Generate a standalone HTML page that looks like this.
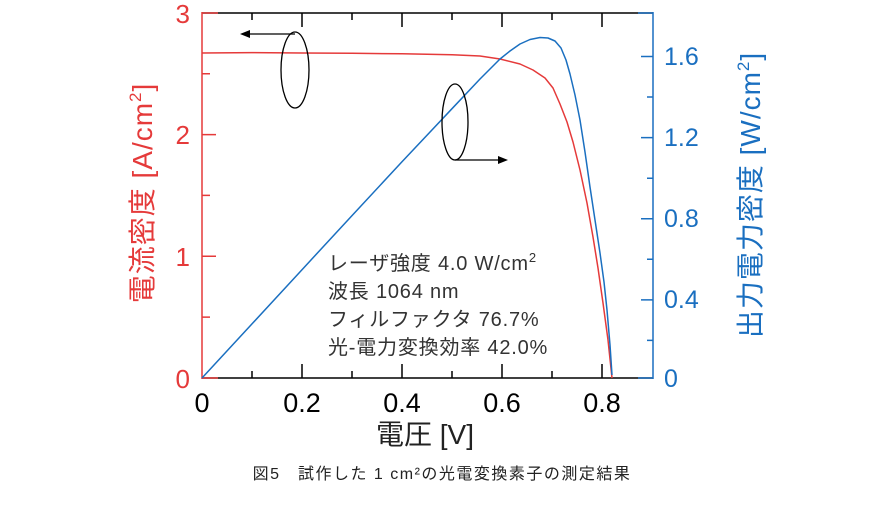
<!DOCTYPE html>
<html><head><meta charset="utf-8"><style>
body{margin:0;background:#fff;width:890px;height:500px;overflow:hidden}
svg text{font-family:"Liberation Sans","Noto Sans CJK JP",sans-serif}
</style></head><body>
<svg width="890" height="500" viewBox="0 0 890 500" xmlns="http://www.w3.org/2000/svg">
<line x1="202" y1="13" x2="653" y2="13" stroke="#000" stroke-width="1.5"/>
<line x1="202" y1="378" x2="653" y2="378" stroke="#000" stroke-width="1.5"/>
<line x1="202" y1="12" x2="202" y2="379" stroke="#e53a3a" stroke-width="1.5"/>
<line x1="202" y1="13" x2="218" y2="13" stroke="#e53a3a" stroke-width="1.5"/>
<line x1="202" y1="378" x2="218" y2="378" stroke="#e53a3a" stroke-width="1.5"/>
<line x1="653" y1="12" x2="653" y2="379" stroke="#1a6fc0" stroke-width="1.5"/>
<line x1="638" y1="13" x2="653" y2="13" stroke="#1a6fc0" stroke-width="1.5"/>
<line x1="638" y1="378" x2="653" y2="378" stroke="#1a6fc0" stroke-width="1.5"/>
<g stroke="#000" stroke-width="1.5">
<path d="M252 378v-7M302 378v-14M352 378v-7M402 378v-14M452 378v-7M502 378v-14M552 378v-7M602 378v-14"/>
<path d="M252 13v7M302 13v14M352 13v7M402 13v14M452 13v7M502 13v14M552 13v7M602 13v14"/>
</g>
<g stroke="#e53a3a" stroke-width="1.5">
<path d="M202 134.6h14M202 256.3h14M202 73.8h8M202 195.4h8M202 317.1h8"/>
</g>
<g stroke="#1a6fc0" stroke-width="1.5">
<path d="M653 56.5h-12M653 137.6h-12M653 218.7h-12M653 299.9h-12M653 97h-6M653 178.2h-6M653 259.3h-6M653 340.4h-6"/>
</g>
<g font-size="27" fill="#000" text-anchor="middle">
<text x="202" y="412">0</text><text x="302" y="412">0.2</text><text x="402" y="412">0.4</text><text x="502" y="412">0.6</text><text x="602" y="412">0.8</text>
</g>
<g font-size="26" fill="#e53a3a" text-anchor="end">
<text x="190" y="23">3</text><text x="190" y="144">2</text><text x="190" y="266">1</text><text x="190" y="388">0</text>
</g>
<g font-size="25" fill="#1a6fc0" text-anchor="start">
<text x="664" y="387">0</text><text x="664" y="308">0.4</text><text x="664" y="227">0.8</text><text x="664" y="146">1.2</text><text x="664" y="65">1.6</text>
</g>
<text x="425" y="444" font-size="28" text-anchor="middle" fill="#222">電圧 [V]</text>
<text transform="translate(152,193) rotate(-90)" font-size="28" text-anchor="middle" fill="#e53a3a" letter-spacing="1">電流密度 [A/cm<tspan font-size="17" dy="-11">2</tspan><tspan dy="11">]</tspan></text>
<text transform="translate(760,195) rotate(-90)" font-size="28" text-anchor="middle" fill="#1a6fc0" letter-spacing="1">出力電力密度 [W/cm<tspan font-size="17" dy="-11">2</tspan><tspan dy="11">]</tspan></text>
<polyline fill="none" stroke="#e53a3a" stroke-width="1.5" stroke-linejoin="round" points="202,53 252,52.6 302,53 352,53.3 402,53.8 452,54.8 480,56 500,59 520,64 533,70 545,78 553,88 560,104 567,122 573,142 580,170 587,203 593,237 598,268 603,303 608,340 612,378"/>
<polyline fill="none" stroke="#1a6fc0" stroke-width="1.5" stroke-linejoin="round" points="202,378 252,323.9 302,269.7 352,215.6 402,161.8 452,108.7 480,79 500,59 510,51 520,44 530,39.5 540,37.5 548,38 555,41 561,48 566,60 570,74 575,95 580,120 585,152 590,187 595,220 600,253 604,282 607,310 610,345 612,375"/>
<ellipse cx="295" cy="70" rx="14" ry="38" fill="none" stroke="#000" stroke-width="1.3"/>
<line x1="295" y1="34" x2="248" y2="34" stroke="#000" stroke-width="1.3"/>
<polygon points="240,34 250,30 250,38" fill="#000"/>
<ellipse cx="455" cy="122" rx="13" ry="38" fill="none" stroke="#000" stroke-width="1.3"/>
<line x1="455" y1="160" x2="500" y2="160" stroke="#000" stroke-width="1.3"/>
<polygon points="508,160 498,156 498,164" fill="#000"/>
<g font-size="20" fill="#333" letter-spacing="0.8">
<text x="328" y="270">レーザ強度 4.0 W/cm<tspan font-size="13" dy="-8">2</tspan></text>
<text x="328" y="298">波長 1064 nm</text>
<text x="328" y="326">フィルファクタ 76.7%</text>
<text x="328" y="354">光-電力変換効率 42.0%</text>
</g>
<text x="442" y="479" font-size="16" text-anchor="middle" fill="#222" letter-spacing="1.5">図5　試作した 1 cm²の光電変換素子の測定結果</text>
</svg>
</body></html>
